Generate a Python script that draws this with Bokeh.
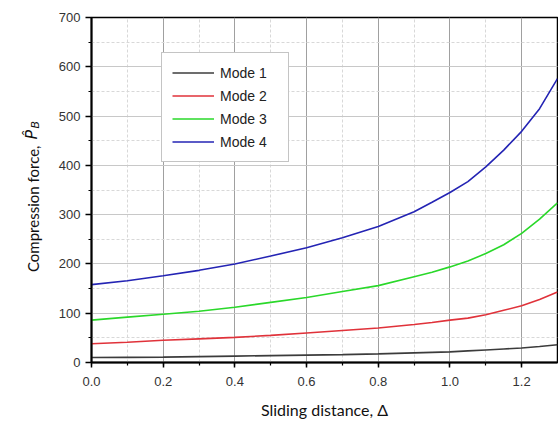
import math
from bokeh.plotting import figure
from bokeh.models import Range1d, Label, Legend, LegendItem, SingleIntervalTicker, NumeralTickFormatter
from bokeh.embed import file_html
from bokeh.resources import INLINE

# data
delta = [0.0, 0.1, 0.2, 0.3, 0.4, 0.5, 0.6, 0.7, 0.8, 0.9, 0.95, 1.0, 1.05, 1.1, 1.15, 1.2, 1.25, 1.3]
mode1 = [10, 10.5, 11, 12, 13, 14, 15, 16, 17.5, 19.5, 20.5, 21.5, 23.5, 25.5, 27.5, 29.5, 32.5, 36]
mode2 = [38, 41, 45, 48, 51, 55, 60, 65, 70, 77, 81, 86, 90, 97, 106, 115, 128, 143]
mode3 = [86, 92, 98, 104, 112, 122, 132, 144, 156, 174, 183, 194, 206, 221, 239, 262, 291, 324]
mode4 = [158, 166, 176, 187, 200, 216, 233, 253, 276, 306, 325, 345, 367, 397, 431, 469, 515, 576]
series_names = ["Mode 1", "Mode 2", "Mode 3", "Mode 4"]
series_colors = ["#3c3c3c", "#e0323a", "#2ad82a", "#2424b4"]

FL, FR, FT, FB = 91, 557, 17, 363  # frame edges on the canvas

p = figure(width=558, height=421, output_backend="svg", toolbar_location=None,
           x_range=Range1d(0, 1.3), y_range=Range1d(0, 700),
           min_border_left=FL, min_border_right=558 - FR, min_border_top=FT,
           min_border_bottom=421 - FB)

p.outline_line_color = "black"
p.outline_line_width = 1.5
p.background_fill_color = "white"

for ax in (p.xaxis[0], p.yaxis[0]):
    ax.axis_line_color = "black"
    ax.axis_line_width = 2
    ax.major_tick_line_color = "black"
    ax.minor_tick_line_color = "black"
    ax.major_tick_line_width = 1.5
    ax.minor_tick_line_width = 1.2
    ax.major_tick_in = 0
    ax.minor_tick_in = 0
    ax.major_label_text_font = "Liberation Sans"
    ax.major_label_text_font_size = "13px"
    ax.major_label_text_color = "#333333"

p.xaxis.ticker = SingleIntervalTicker(interval=0.2, num_minor_ticks=2)
p.yaxis.ticker = SingleIntervalTicker(interval=100, num_minor_ticks=2)
p.xaxis.formatter = NumeralTickFormatter(format="0.0")
p.xaxis.major_tick_out = 5
p.xaxis.minor_tick_out = 3
p.yaxis.major_tick_out = 6
p.yaxis.minor_tick_out = 3
p.xaxis.major_label_standoff = 9
p.yaxis.major_label_standoff = 5

p.xaxis.axis_label = "Sliding distance, Δ"
p.xaxis.axis_label_text_font = "Lato"
p.xaxis.axis_label_text_font_style = "normal"
p.xaxis.axis_label_text_font_size = "16px"
p.xaxis.axis_label_text_color = "#111111"
p.xaxis.axis_label_standoff = 11

p.xgrid.grid_line_color = "#a0a0a0"
p.ygrid.grid_line_color = "#c8c8c8"
p.xgrid.grid_line_width = 1
p.ygrid.grid_line_width = 1
p.xgrid.minor_grid_line_color = "#d8d8d8"
p.ygrid.minor_grid_line_color = "#d8d8d8"
p.xgrid.minor_grid_line_dash = "3 2"
p.ygrid.minor_grid_line_dash = "3 2"

renderers = []
for ys, c in zip([mode1, mode2, mode3, mode4], series_colors):
    r = p.line(delta, ys, line_color=c, line_width=1.6)
    renderers.append(r)

legend = Legend(items=[LegendItem(label=n, renderers=[r]) for n, r in zip(series_names, renderers)],
                location=(70, 200), orientation="vertical",
                padding=10, spacing=4, glyph_width=42, glyph_height=19,
                label_standoff=6, label_width=58, margin=0,
                label_text_font="Liberation Sans", label_text_font_size="14px",
                label_text_color="#222222",
                border_line_color="#8a8a8a", border_line_width=1,
                background_fill_color="white", background_fill_alpha=1)
p.add_layout(legend, "center")

# y-axis label composed of pieces (hat and subscript), placed in the left panel;
# each piece gets its own stacked side panel, so x is relative to that panel
p.add_layout(Label(x=-5, y=FB - 146, x_units="screen", y_units="screen",
                   text="Compression force,", angle=math.pi / 2,
                   text_align="right", text_baseline="alphabetic",
                   text_font="Lato", text_font_size="15px", text_color="#111111"), "left")
p.add_layout(Label(x=13, y=FB - 140, x_units="screen", y_units="screen",
                   text="P\u0302", angle=math.pi / 2,
                   text_align="left", text_baseline="alphabetic",
                   text_font="DejaVu Sans", text_font_style="italic",
                   text_font_size="16px", text_color="#111111"), "left")
p.add_layout(Label(x=30, y=FB - 129, x_units="screen", y_units="screen",
                   text="B", angle=math.pi / 2,
                   text_align="left", text_baseline="alphabetic",
                   text_font="DejaVu Sans", text_font_style="italic",
                   text_font_size="11px", text_color="#111111"), "left")

open("out.html", "w").write(file_html(p, INLINE))
